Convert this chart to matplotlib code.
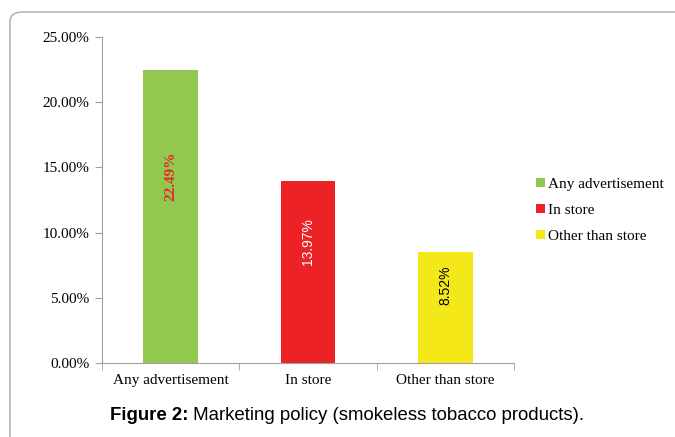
import matplotlib
matplotlib.use("Agg")
import matplotlib.pyplot as plt
from matplotlib.patches import FancyBboxPatch, Patch

categories = ["Any advertisement", "In store", "Other than store"]
values = [22.49, 13.97, 8.52]
value_labels = ["22.49%", "13.97%", "8.52%"]
yticks = [0, 5, 10, 15, 20, 25]
ytick_labels = ["0.00%", "5.00%", "10.00%", "15.00%", "20.00%", "25.00%"]
caption_bold = "Figure 2:"
caption_rest = " Marketing policy (smokeless tobacco products)."

colors = ["#92C850", "#EC2227", "#F4E819"]
label_colors = ["#E8282B", "white", "black"]
label_fonts = ["Liberation Serif", "Liberation Sans", "Liberation Sans"]
label_weights = ["bold", "normal", "normal"]
label_sizes = [11, 10, 10]
label_frac = [0.635, 0.665, 0.70]

W, H = 675, 437
fig = plt.figure(figsize=(W / 100, H / 100), dpi=100)

# outer rounded frame
frame = FancyBboxPatch((10 / W, -0.2), 1.2, 1 - 12 / H + 0.2,
                       boxstyle="round,pad=0,rounding_size=0.02",
                       transform=fig.transFigure, fill=False,
                       edgecolor="#A8A8A8", linewidth=1.0)
fig.patches.append(frame)

ax = fig.add_axes([102 / W, 1 - 363 / H, (514 - 102) / W, (363 - 37) / H])
x = range(len(categories))
bars = ax.bar(x, values, width=0.4, color=colors)
ax.set_xlim(-0.5, len(categories) - 0.5)
ax.set_ylim(0, 25)
ax.set_yticks(yticks)
ax.set_yticklabels(ytick_labels, fontfamily="Liberation Serif", fontsize=11)
ax.set_xticks(list(x))
ax.set_xticklabels(categories, fontfamily="Liberation Serif", fontsize=11)
ax.tick_params(axis="x", length=0, pad=8)
ax.tick_params(axis="y", length=5, color="#A0A0A0", pad=4)
# category boundary ticks
ax.set_xticks([-0.5, 0.5, 1.5, 2.5], minor=True)
ax.tick_params(axis="x", which="minor", length=5, color="#A0A0A0")
for s in ["top", "right"]:
    ax.spines[s].set_visible(False)
for s in ["left", "bottom"]:
    ax.spines[s].set_color("#A0A0A0")

for i, v in enumerate(values):
    ax.text(i, v * label_frac[i], value_labels[i], rotation=90,
            ha="center", va="center", color=label_colors[i],
            fontfamily=label_fonts[i], fontweight=label_weights[i],
            fontsize=label_sizes[i])

handles = [Patch(facecolor=c, edgecolor="none") for c in colors]
fig.legend(handles, categories, loc="upper left",
           bbox_to_anchor=(530 / W, 1 - 172 / H), frameon=False,
           prop={"family": "Liberation Serif", "size": 11},
           handlelength=0.55, handleheight=0.55, handletextpad=0.25,
           labelspacing=0.85, borderaxespad=0)

t1 = fig.text(110 / W, 1 - 415 / H, caption_bold, fontfamily="Liberation Sans",
              fontweight="bold", fontsize=13.4, va="center", ha="left")
fig.canvas.draw()
bb = t1.get_window_extent()
fig.text(bb.x1 / W, 1 - 415 / H, caption_rest, fontfamily="Liberation Sans",
         fontsize=13.4, va="center", ha="left")

fig.savefig("out.png", dpi=100)
